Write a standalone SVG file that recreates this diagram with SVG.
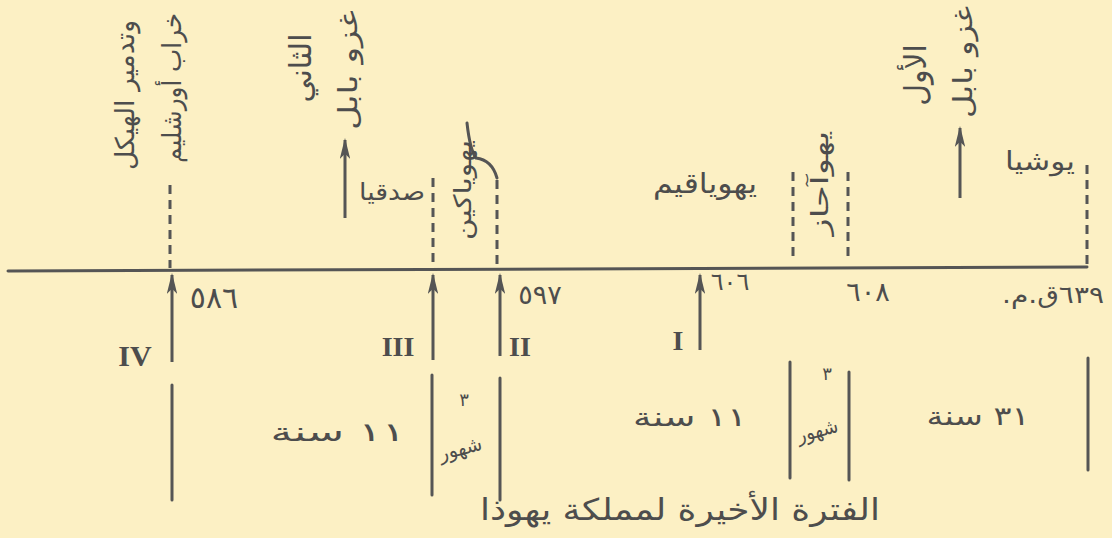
<svg xmlns="http://www.w3.org/2000/svg" width="1112" height="538" viewBox="0 0 1112 538">
<defs>
<style>
.ink{fill:#4d4d4d;font-family:"DejaVu Sans",sans-serif;}
.rom{fill:#4d4d4d;font-family:"Liberation Serif",serif;font-weight:bold;}
.ln{stroke:#555;stroke-width:3;fill:none;stroke-linecap:round;}
.dash{stroke:#555;stroke-width:3;fill:none;stroke-dasharray:9 6;}
.arr{stroke:#555;stroke-width:3;fill:none;marker-end:url(#ah);}
</style>
<marker id="ah" viewBox="0 0 20 10" refX="18" refY="5" markerWidth="7" markerHeight="3.5" orient="auto" markerUnits="strokeWidth">
<path d="M0,0 L20,5 L0,10 L5,5 Z" fill="#555"/>
</marker>
</defs>
<rect width="1112" height="538" fill="#fcf0c4"/>

<g id="connectors">
<path class="ln" d="M8,271 L1087,267"/>
<line class="dash" x1="170" y1="185" x2="170" y2="268"/>
<line class="dash" x1="433" y1="178" x2="433" y2="268"/>
<path class="ln" d="M467,123 Q470,150 476,158 Q492,160 497,178"/>
<line class="dash" x1="497" y1="180" x2="497" y2="268"/>
<line class="dash" x1="793" y1="172" x2="793" y2="258"/>
<line class="dash" x1="848" y1="172" x2="848" y2="258"/>
<line class="dash" x1="1087" y1="165" x2="1087" y2="266"/>
<line class="arr" x1="345" y1="218" x2="345" y2="140"/>
<line class="arr" x1="960" y1="198" x2="960" y2="128"/>
<line class="arr" x1="172" y1="362" x2="172" y2="275"/>
<line class="arr" x1="433" y1="360" x2="433" y2="275"/>
<line class="arr" x1="500" y1="356" x2="500" y2="275"/>
<line class="arr" x1="700" y1="350" x2="700" y2="275"/>
<line class="ln" x1="172" y1="385" x2="172" y2="500"/>
<line class="ln" x1="432" y1="375" x2="432" y2="495"/>
<line class="ln" x1="500" y1="378" x2="500" y2="500"/>
<line class="ln" x1="790" y1="362" x2="790" y2="478"/>
<line class="ln" x1="849" y1="372" x2="849" y2="480"/>
<line class="ln" x1="1088" y1="358" x2="1088" y2="470"/>
</g>

<g id="destruction">
<text class="ink" font-size="26" text-anchor="middle" dominant-baseline="central" transform="translate(172,88) rotate(-90)" textLength="150" lengthAdjust="spacingAndGlyphs">خراب أورشليم</text>
<text class="ink" font-size="26" text-anchor="middle" dominant-baseline="central" transform="translate(125,95) rotate(-90)" textLength="150" lengthAdjust="spacingAndGlyphs">وتدمير الهيكل</text>
</g>
<g id="invasion2">
<text class="ink" font-size="26" text-anchor="middle" dominant-baseline="central" transform="translate(348,70) rotate(-90)" textLength="120" lengthAdjust="spacingAndGlyphs">غزو بابل</text>
<text class="ink" font-size="30" text-anchor="middle" dominant-baseline="central" transform="translate(300,68) rotate(-90)">الثاني</text>
</g>
<g id="invasion1">
<text class="ink" font-size="26" text-anchor="middle" dominant-baseline="central" transform="translate(963,62) rotate(-90)" textLength="112" lengthAdjust="spacingAndGlyphs">غزو بابل</text>
<text class="ink" font-size="30" text-anchor="middle" dominant-baseline="central" transform="translate(915,75) rotate(-90)">الأول</text>
</g>
<g id="zedekiah">
<text class="ink" font-size="24" text-anchor="middle" x="392" y="200" textLength="66" lengthAdjust="spacingAndGlyphs">صدقيا</text>
</g>
<g id="jehoiachin">
<text class="ink" font-size="24" text-anchor="middle" dominant-baseline="central" transform="translate(463,190) rotate(-90)" textLength="100" lengthAdjust="spacingAndGlyphs">يهوياكين</text>
</g>
<g id="jehoiakim">
<text class="ink" font-size="28" text-anchor="middle" x="705" y="193" textLength="104" lengthAdjust="spacingAndGlyphs">يهوياقيم</text>
</g>
<g id="jehoahaz">
<text class="ink" font-size="24" text-anchor="middle" dominant-baseline="central" transform="translate(820,183) rotate(-90)" textLength="105" lengthAdjust="spacingAndGlyphs">يهوآحاز</text>
</g>
<g id="josiah">
<text class="ink" font-size="26" text-anchor="middle" x="1040" y="170" textLength="70" lengthAdjust="spacingAndGlyphs">يوشيا</text>
</g>

<g id="dates">
<text class="ink" font-size="30" text-anchor="middle" x="214" y="308">٥٨٦</text>
<text class="ink" font-size="27" text-anchor="middle" x="540" y="304">٥٩٧</text>
<text class="ink" font-size="24" text-anchor="middle" x="730" y="290">٦٠٦</text>
<text class="ink" font-size="27" text-anchor="middle" x="868" y="301">٦٠٨</text>
<text class="ink" font-size="24" text-anchor="middle" x="1053" y="303" direction="rtl" textLength="102" lengthAdjust="spacingAndGlyphs">٦٣٩ق.م.</text>
</g>

<g id="numerals">
<text class="rom" font-size="30" text-anchor="middle" x="135" y="366">IV</text>
<text class="rom" font-size="28" text-anchor="middle" x="398" y="356">III</text>
<text class="rom" font-size="28" text-anchor="middle" x="520" y="356">II</text>
<text class="rom" font-size="28" text-anchor="middle" x="678" y="350">I</text>
</g>

<g id="durations">
<text class="ink" font-size="26" text-anchor="middle" x="338" y="441" direction="rtl" textLength="135" lengthAdjust="spacingAndGlyphs">١١ سنة</text>
<text class="ink" font-size="18" text-anchor="middle" x="464" y="406">٣</text>
<text class="ink" font-size="20" text-anchor="middle" transform="translate(462,455) rotate(-15)" textLength="44" lengthAdjust="spacingAndGlyphs">شهور</text>
<text class="ink" font-size="26" text-anchor="middle" x="690" y="426" direction="rtl" textLength="114" lengthAdjust="spacingAndGlyphs">١١ سنة</text>
<text class="ink" font-size="18" text-anchor="middle" x="827" y="380">٣</text>
<text class="ink" font-size="20" text-anchor="middle" transform="translate(819,437) rotate(-15)" textLength="42" lengthAdjust="spacingAndGlyphs">شهور</text>
<text class="ink" font-size="26" text-anchor="middle" x="978" y="425" direction="rtl" textLength="103" lengthAdjust="spacingAndGlyphs">٣١ سنة</text>
</g>

<g id="title">
<text class="ink" font-size="30" text-anchor="middle" x="680" y="520" textLength="400" lengthAdjust="spacingAndGlyphs">الفترة الأخيرة لمملكة يهوذا</text>
</g>
</svg>
